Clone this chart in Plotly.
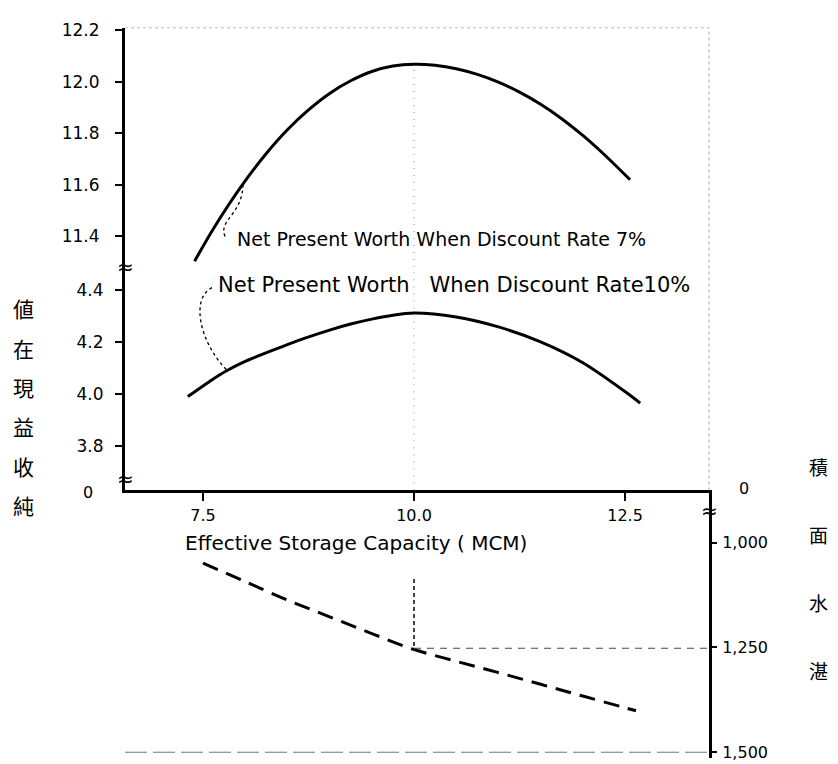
import plotly.graph_objects as go

# ---------------- data ----------------
capacity_7 = [7.40, 7.60, 7.80, 8.00, 8.25, 8.50, 8.75, 9.00, 9.25, 9.50, 9.75, 10.00,
              10.25, 10.50, 10.75, 11.00, 11.25, 11.50, 11.75, 12.00, 12.25, 12.56]
npw_7 = [11.304, 11.417, 11.521, 11.616, 11.722, 11.814, 11.891, 11.955, 12.004, 12.040, 12.061, 12.068,
         12.064, 12.051, 12.029, 11.999, 11.960, 11.913, 11.857, 11.792, 11.719, 11.620]

capacity_10 = [7.32, 7.60, 7.78, 8.00, 8.41, 8.70, 9.00, 9.25, 9.50, 9.75, 10.00,
               10.50, 11.00, 11.50, 12.00, 12.54, 12.68]
npw_10 = [3.990, 4.053, 4.089, 4.125, 4.178, 4.213, 4.245, 4.268, 4.287, 4.302, 4.310,
          4.295, 4.257, 4.200, 4.120, 4.000, 3.965]

capacity_area = [7.5, 8.0, 8.5, 9.0, 9.5, 10.0, 10.5, 11.0, 11.5, 12.0, 12.63]
area = [1049, 1093, 1137, 1177, 1217, 1255, 1283, 1310, 1338, 1366, 1401]

x_ticks = [7.5, 10.0, 12.5]
x_ticktext = ["7.5", "10.0", "12.5"]
upper_ticks = [11.4, 11.6, 11.8, 12.0, 12.2]
upper_ticktext = ["11.4", "11.6", "11.8", "12.0", "12.2"]
middle_ticks = [3.8, 4.0, 4.2, 4.4]
middle_ticktext = ["3.8", "4.0", "4.2", "4.4"]
lower_ticks = [1000, 1250, 1500]
lower_ticktext = ["1,000", "1,250", "1,500"]
break_label = "0"

label_7 = "Net Present Worth When Discount Rate 7%"
label_10 = "Net Present Worth\u00a0\u00a0 When Discount Rate10%"
x_title = "Effective Storage Capacity ( MCM)"
left_title_chars = ["値", "在", "現", "益", "收", "純"]
right_title_chars = ["積", "面", "水", "湛"]

optimum_capacity = 10.0
optimum_area = 1252

# ---------------- layout geometry ----------------
W, H = 838, 764
OFF = 8  # page body margin


def fx(px):
    return (px - OFF) / W


def fy(py):
    return 1 - (py - OFF) / H


X_RANGE = [6.576, 13.495]
UP_RANGE = [11.2816, 12.2095]
MID_RANGE = [3.6302, 4.4868]
LOW_RANGE = [1514.1, 875.6]  # reversed (values grow downward)

FONT = "DejaVu Sans, Verdana, sans-serif"
CJK = "Noto Sans CJK TC, Noto Sans CJK SC, sans-serif"

fig = go.Figure()

fig.add_trace(go.Scatter(x=capacity_7, y=npw_7, mode="lines", xaxis="x", yaxis="y",
                         line=dict(color="black", width=3, shape="spline", smoothing=0.8),
                         showlegend=False))
fig.add_trace(go.Scatter(x=capacity_10, y=npw_10, mode="lines", xaxis="x", yaxis="y2",
                         line=dict(color="black", width=3, shape="spline", smoothing=0.8),
                         showlegend=False))
fig.add_trace(go.Scatter(x=capacity_area, y=area, mode="lines", xaxis="x", yaxis="y3",
                         line=dict(color="black", width=3, shape="spline", dash="16px,9px"),
                         showlegend=False))

axis_common = dict(showgrid=False, zeroline=False, linecolor="black")

fig.update_layout(
    width=W, height=H,
    margin=dict(l=0, r=0, t=0, b=0),
    paper_bgcolor="white", plot_bgcolor="white",
    xaxis=dict(domain=[fx(125), fx(709)], range=X_RANGE, anchor="y2",
               showline=True, linewidth=3, tickvals=x_ticks, ticktext=x_ticktext,
               ticks="outside", ticklen=8, tickwidth=2, tickcolor="black",
               ticklabelstandoff=0, tickfont=dict(family=FONT, size=16, color="black"),
               **axis_common),
    xaxis5=dict(overlaying="x", range=X_RANGE, anchor="y2", showline=False,
                tickvals=x_ticks, ticks="inside", ticklen=10, tickwidth=2,
                tickcolor="black", showticklabels=False, showgrid=False, zeroline=False),
    yaxis=dict(domain=[fy(263), fy(20)], range=UP_RANGE, anchor="x",
               showline=True, linewidth=3, tickvals=upper_ticks, ticktext=upper_ticktext,
               ticks="outside", ticklen=7, tickwidth=1.5, tickcolor="black",
               ticklabelstandoff=12, tickfont=dict(family=FONT, size=17, color="black"),
               **axis_common),
    yaxis2=dict(domain=[fy(490), fy(263)], range=MID_RANGE, anchor="x",
                showline=True, linewidth=3, tickvals=middle_ticks, ticktext=middle_ticktext,
                ticks="outside", ticklen=7, tickwidth=1.5, tickcolor="black",
                ticklabelstandoff=8, tickfont=dict(family=FONT, size=17, color="black"),
                **axis_common),
    yaxis3=dict(domain=[fy(762), fy(490)], range=LOW_RANGE, anchor="x", side="right",
                showline=True, linewidth=3, tickvals=lower_ticks, ticktext=lower_ticktext,
                ticks="outside", ticklen=5, tickwidth=1.5, tickcolor="black",
                ticklabelstandoff=2, tickfont=dict(family=FONT, size=16, color="black"),
                **axis_common),
    yaxis4=dict(overlaying="y3", range=LOW_RANGE, anchor="x", side="left",
                showline=True, linewidth=3, linecolor="black", showticklabels=False,
                ticks="", showgrid=False, zeroline=False),
)

shapes = [
    # guide at the optimum capacity
    dict(type="line", xref="x", yref="y", x0=optimum_capacity, x1=optimum_capacity,
         y0=UP_RANGE[0], y1=npw_7[11], line=dict(color="#888", width=1, dash="1px,6px")),
    dict(type="line", xref="x", yref="y2", x0=optimum_capacity, x1=optimum_capacity,
         y0=MID_RANGE[0], y1=MID_RANGE[1], line=dict(color="#888", width=1, dash="1px,6px")),
    dict(type="line", xref="x", yref="y3", x0=optimum_capacity, x1=optimum_capacity,
         y0=1087, y1=optimum_area, line=dict(color="black", width=1.5, dash="4px,3px")),
    dict(type="line", xref="x", yref="y3", x0=optimum_capacity, x1=X_RANGE[1],
         y0=optimum_area, y1=optimum_area, line=dict(color="#444", width=1.2, dash="7px,6px")),
    # faint frame lines
    dict(type="line", xref="x", yref="y domain", x0=X_RANGE[0], x1=X_RANGE[1], y0=1, y1=1,
         line=dict(color="#bbb", width=1, dash="dot")),
    dict(type="line", xref="x domain", yref="paper", x0=1, x1=1,
         y0=fy(490), y1=fy(20), line=dict(color="#aaa", width=1, dash="dot")),
    dict(type="line", xref="x", yref="y3", x0=X_RANGE[0], x1=X_RANGE[1], y0=1500, y1=1500,
         line=dict(color="#777", width=1, dash="22px,6px")),
    # leader lines of the two labels
    dict(type="path", xref="x", yref="y",
         path="M 7.761,11.40 C 7.678,11.465 7.974,11.484 7.974,11.606",
         line=dict(color="black", width=1.3, dash="dot")),
    dict(type="path", xref="x", yref="y2",
         path="M 7.607,4.4075 C 7.346,4.366 7.464,4.196 7.784,4.091",
         line=dict(color="black", width=1.3, dash="dot")),
]
fig.update_layout(shapes=shapes)

ann = []
ann.append(dict(text=label_7, xref="paper", yref="paper", x=fx(235), y=fy(235),
                xanchor="left", yanchor="middle", showarrow=False,
                font=dict(family=FONT, size=19, color="black")))
ann.append(dict(text=label_10, xref="paper", yref="paper", x=fx(216), y=fy(281),
                xanchor="left", yanchor="middle", showarrow=False,
                font=dict(family=FONT, size=21, color="black")))
ann.append(dict(text=x_title, xref="paper", yref="paper", x=fx(183), y=fy(543),
                xanchor="left", yanchor="middle", showarrow=False,
                font=dict(family=FONT, size=20, color="black")))
# axis break labels "0"
ann.append(dict(text=break_label, xref="paper", yref="y2 domain", x=fx(88), y=0,
                xanchor="center", yanchor="middle", yshift=-2, showarrow=False,
                font=dict(family=FONT, size=16, color="black")))
ann.append(dict(text=break_label, xref="paper", yref="y3 domain", x=fx(744), y=1,
                xanchor="center", yanchor="middle", yshift=2, showarrow=False,
                font=dict(family=FONT, size=16, color="black")))
# axis break marks
for yr, yy in [("y domain", 0), ("y2 domain", 0.053)]:
    ann.append(dict(text="≈", xref="x domain", yref=yr, x=0, y=yy, showarrow=False,
                    xanchor="center", yanchor="middle",
                    font=dict(family=FONT, size=20, color="black")))
ann.append(dict(text="≈", xref="x domain", yref="y3 domain", x=1, y=0.925, showarrow=False,
                xanchor="center", yanchor="middle",
                font=dict(family=FONT, size=20, color="black")))
# vertical axis titles, one glyph per line
for i, ch in enumerate(left_title_chars):
    ann.append(dict(text=ch, xref="paper", yref="paper", x=fx(23), y=fy(305 + 40 * i),
                    xanchor="center", yanchor="middle", showarrow=False,
                    font=dict(family=CJK, size=21, color="black")))
for i, ch in enumerate(right_title_chars):
    ann.append(dict(text=ch, xref="paper", yref="paper", x=fx(818), y=fy(466 + 69 * i),
                    xanchor="center", yanchor="middle", showarrow=False,
                    font=dict(family=CJK, size=19, color="black")))
fig.update_layout(annotations=ann)

fig.write_html("out.html")
